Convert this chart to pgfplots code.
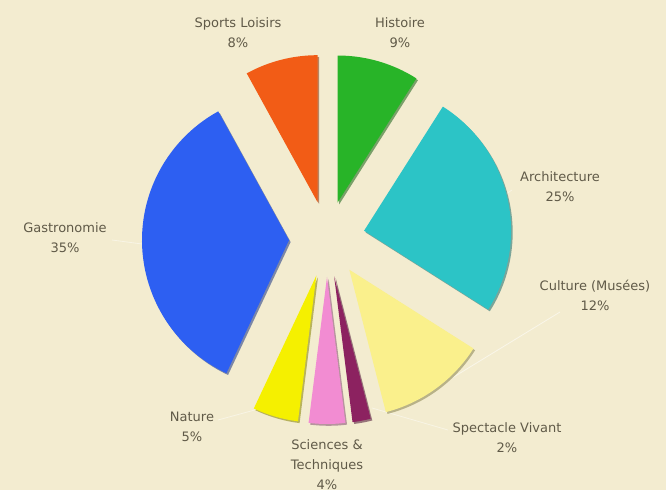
\documentclass[border=0pt]{standalone}
\usepackage{pgfplots}
\pgfplotsset{compat=1.18}
\usepackage{pgfplotstable}
\usepackage{fontspec}
\setmainfont{DejaVu Sans}
\definecolor{bg}{RGB}{243,236,208}
\definecolor{txt}{RGB}{96,90,72}
\definecolor{cHist}{RGB}{40,180,40}
\definecolor{cArch}{RGB}{44,196,198}
\definecolor{cCult}{RGB}{250,240,140}
\definecolor{cSpec}{RGB}{140,34,96}
\definecolor{cSci}{RGB}{242,140,210}
\definecolor{cNat}{RGB}{245,240,0}
\definecolor{cGast}{RGB}{45,95,242}
\definecolor{cSport}{RGB}{242,92,22}
% slices clockwise from 12 o'clock
\pgfplotstableread[col sep=comma]{
value,color
9,cHist
25,cArch
12,cCult
2,cSpec
4,cSci
5,cNat
35,cGast
8,cSport
}\piedata
\begin{document}
\begin{tikzpicture}
\begin{axis}[
  scale only axis, width=666pt, height=490pt,
  xmin=0, xmax=666, ymin=0, ymax=490,
  hide axis, clip=false,
]
\fill[bg] (axis cs:0,0) rectangle (axis cs:666,490);
% leader lines
\draw[white, opacity=0.55, line width=0.8pt] (axis cs:560,178) -- (axis cs:452,112);
\draw[white, opacity=0.45, line width=0.8pt] (axis cs:112,250) -- (axis cs:142,246);
\draw[white, opacity=0.45, line width=0.8pt] (axis cs:218,70) -- (axis cs:262,82);
\draw[white, opacity=0.45, line width=0.8pt] (axis cs:448,60) -- (axis cs:372,82);
\draw[white, opacity=0.45, line width=0.8pt] (axis cs:512,300) -- (axis cs:500,292);
\pgfplotsextra{
  \pgfplotstablegetrowsof{\piedata}%
  \pgfmathtruncatemacro\lastrow{\pgfplotsretval-1}%
  \xdef\cum{0}%
  \foreach \i in {0,...,\lastrow}{%
    \pgfplotstablegetelem{\i}{value}\of{\piedata}\let\v=\pgfplotsretval
    \pgfplotstablegetelem{\i}{color}\of{\piedata}\let\c=\pgfplotsretval
    \pgfmathsetmacro\a{90-3.6*\cum}%
    \pgfmathsetmacro\b{90-3.6*(\cum+\v)}%
    \pgfmathsetmacro\m{(\a+\b)/2}%
    \begin{scope}[shift={(axis cs:327,251)}]
      \fill[\c!55!black, opacity=0.55, shift={(1.6pt,-1.8pt)}] (\m:38pt) -- ++(\a:147pt) arc[start angle=\a, end angle=\b, radius=147pt] -- cycle;
      \fill[\c] (\m:38pt) -- ++(\a:147pt) arc[start angle=\a, end angle=\b, radius=147pt] -- cycle;
    \end{scope}
    \pgfmathsetmacro\newcum{\cum+\v}%
    \xdef\cum{\newcum}%
  }%
}
\tikzset{lab/.style={text=txt, font=\fontsize{13}{20}\selectfont, align=center}}
\node[lab] at (axis cs:238,457) {Sports Loisirs\\8\%};
\node[lab] at (axis cs:400,457) {Histoire\\9\%};
\node[lab] at (axis cs:560,303) {Architecture\\25\%};
\node[lab] at (axis cs:595,195) {Culture (Musées)\\12\%};
\node[lab] at (axis cs:507,52) {Spectacle Vivant\\2\%};
\node[lab] at (axis cs:327,25) {Sciences \&\\Techniques\\4\%};
\node[lab] at (axis cs:192,63) {Nature\\5\%};
\node[lab] at (axis cs:65,252) {Gastronomie\\35\%};
\end{axis}
\end{tikzpicture}
\end{document}
